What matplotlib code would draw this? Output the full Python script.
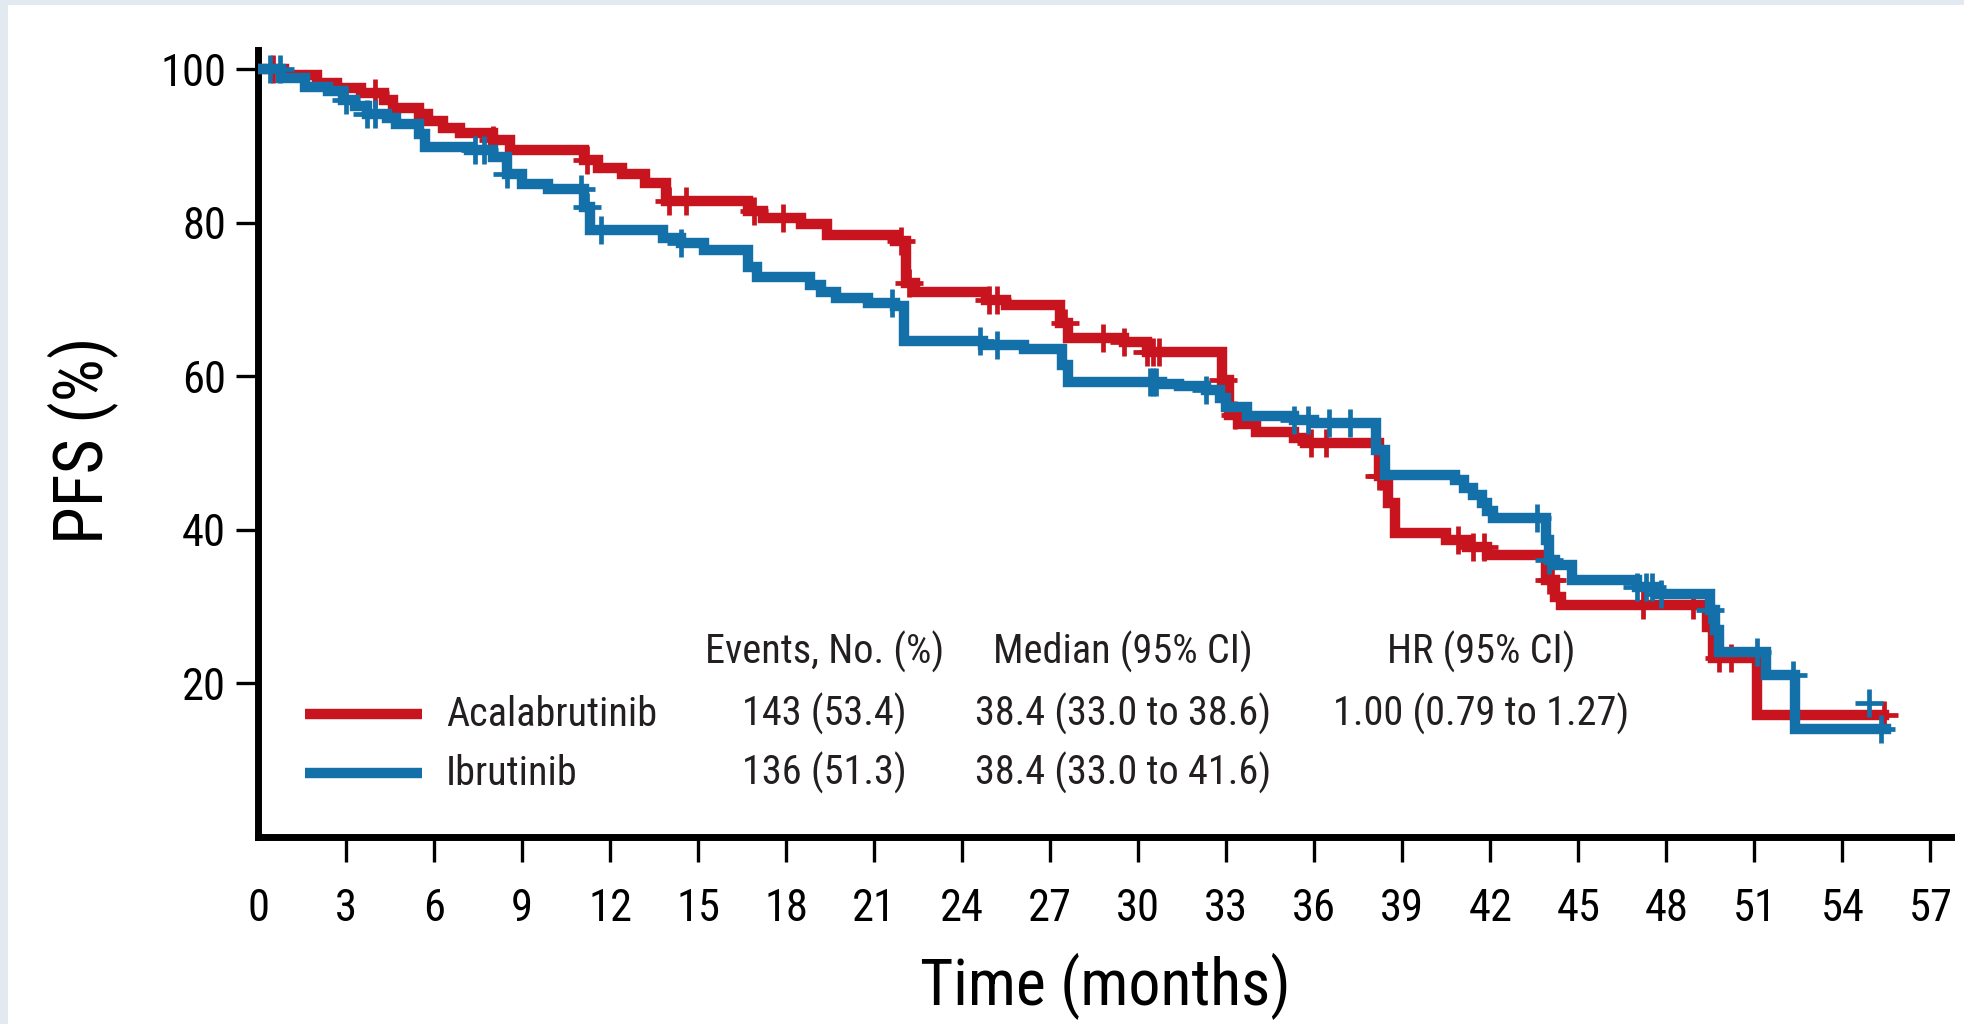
import numpy as np
import matplotlib
matplotlib.use("Agg")
import matplotlib.pyplot as plt
from matplotlib import font_manager as fm
from matplotlib.lines import Line2D
from matplotlib.patches import Rectangle

# pick the narrowest sans family that is installed
_names = {f.name for f in fm.fontManager.ttflist}
_dejavu_cond = any(f.name == "DejaVu Sans" and f.stretch in ("condensed", 300)
                   for f in fm.fontManager.ttflist)
STRETCH = "normal"
if "Liberation Sans Narrow" in _names:
    FAMILY = "Liberation Sans Narrow"
elif "Roboto Condensed" in _names:
    FAMILY = "Roboto Condensed"
elif _dejavu_cond:
    FAMILY = "DejaVu Sans"
    STRETCH = "condensed"
else:
    FAMILY = "Liberation Sans"
plt.rcParams["font.family"] = [FAMILY, "DejaVu Sans"]
plt.rcParams["font.stretch"] = STRETCH

# Kaplan-Meier steps (time in months, PFS in %)
acala_t = [0, 0.9, 2.0, 2.7, 3.5, 4.3, 4.6, 5.5, 5.8, 6.3, 6.9, 8.0, 8.6, 11.1, 11.6,
           12.4, 13.2, 13.9, 16.7, 17.2, 18.5, 19.4, 21.7, 22.1, 22.4, 24.8, 25.5, 27.35,
           27.6, 29.5, 30.3, 32.85, 33.1, 33.4, 34.0, 35.3, 35.7, 38.2, 38.5, 38.75, 40.5,
           41.2, 41.9, 43.9, 44.2, 44.4, 49.4, 49.6, 51.1]
acala_s = [100, 99.2, 98.2, 97.5, 96.9, 96.0, 94.9, 94.1, 93.2, 92.3, 91.7, 90.8, 89.5,
           88.2, 87.1, 86.3, 85.2, 82.8, 81.5, 80.6, 79.9, 78.4, 77.6, 72.2, 71.0, 70.0,
           69.3, 67.0, 65.0, 64.5, 63.2, 59.5, 55.0, 53.8, 52.8, 52.0, 51.3, 47.0, 43.5,
           39.6, 38.7, 37.8, 36.7, 33.5, 31.3, 30.2, 27.4, 23.3, 15.9]
acala_end = 55.4

ibru_t = [0, 0.8, 1.6, 2.4, 2.9, 3.3, 3.7, 4.4, 4.7, 5.5, 5.7, 7.2, 8.0, 8.5, 9.0, 9.9,
          11.1, 11.3, 13.8, 14.4, 15.2, 16.7, 17.0, 18.8, 19.2, 19.7, 20.8, 21.7, 22.0,
          24.7, 26.1, 27.4, 27.6, 30.8, 31.4, 32.3, 32.8, 33.0, 33.7, 35.3, 36.0, 38.1,
          38.4, 40.8, 41.1, 41.4, 41.7, 41.9, 42.1, 43.9, 44.0, 44.2, 44.8, 47.0, 47.7,
          49.5, 49.65, 49.8, 51.4, 52.4]
ibru_s = [100, 98.8, 97.7, 97.1, 96.0, 95.2, 94.1, 93.6, 92.8, 91.5, 89.9, 89.5, 88.6,
          86.3, 85.0, 84.4, 82.0, 79.1, 78.0, 77.4, 76.5, 74.3, 73.0, 71.9, 71.0, 70.2,
          69.5, 69.1, 64.6, 64.1, 63.5, 61.5, 59.3, 59.0, 58.7, 58.2, 57.2, 56.0, 54.8,
          54.3, 53.9, 50.4, 47.2, 46.5, 45.5, 44.5, 43.5, 42.5, 41.5, 38.7, 36.1, 35.4,
          33.5, 32.6, 31.7, 29.6, 27.0, 24.1, 21.1, 14.1]
ibru_end = 55.5

# censoring times
acala_cens = [0.5, 4.0, 8.0, 11.2, 14.0, 14.6, 16.9, 17.9, 21.9, 22.2, 24.9, 25.2, 27.5,
              28.8, 29.5, 30.3, 30.5, 30.7, 32.9, 33.3, 35.9, 36.4, 38.2, 38.3, 40.9, 41.4,
              41.8, 44.0, 44.1, 47.2, 48.9, 49.8, 50.2, 55.4]
ibru_cens = [0.4, 0.75, 3.0, 3.7, 4.0, 7.4, 7.7, 8.5, 11.0, 11.2, 11.7, 14.4, 21.6, 24.6,
             25.2, 30.4, 30.5, 30.6, 32.3, 35.3, 35.8, 36.5, 37.2, 43.6, 44.0, 47.0, 47.3,
             47.5, 47.8, 49.5, 51.1, 52.3, 55.3]
ibru_extra_t = [54.9]
ibru_extra_s = [17.4]

arms = ["Acalabrutinib", "Ibrutinib"]
events = ["143 (53.4)", "136 (51.3)"]
medians = ["38.4 (33.0 to 38.6)", "38.4 (33.0 to 41.6)"]
hr_text = "1.00 (0.79 to 1.27)"

RED = "#c8141e"
BLUE = "#1470a8"
TXT = "#231f20"
LW = 7.5
FS = 29


def level_at(t_arr, s_arr, times):
    idx = np.searchsorted(np.asarray(t_arr), np.asarray(times), side="right") - 1
    return np.asarray(s_arr)[idx]


fig = plt.figure(figsize=(19.64, 10.24), dpi=100, facecolor="#e2e9f0")
fig.patches.append(Rectangle((8 / 1964, 0), 1, 1 - 5 / 1024, transform=fig.transFigure,
                             facecolor="white", edgecolor="none", zorder=-1))

ax = fig.add_axes([258 / 1964, 1 - 837 / 1024, (1951 - 258) / 1964, (837 - 50) / 1024])
ax.set_facecolor("none")

for t, s, end, cens, col, z in [(acala_t, acala_s, acala_end, acala_cens, RED, 3),
                                (ibru_t, ibru_s, ibru_end, ibru_cens, BLUE, 4)]:
    tt = list(t) + [end]
    ss = list(s) + [s[-1]]
    ax.step(tt, ss, where="post", color=col, lw=LW, solid_joinstyle="miter", zorder=z)
    ax.plot(cens, level_at(t, s, cens), ls="none", marker="+", ms=20, mew=3.4,
            color=col, zorder=z)
ax.plot(ibru_extra_t, ibru_extra_s, ls="none", marker="+", ms=20, mew=3.4, color=BLUE, zorder=4)

ax.set_xlim(0, 57.7)
ax.set_ylim(0, 102.5)
ax.set_xticks(np.arange(0, 58, 3))
ax.set_yticks([20, 40, 60, 80, 100])
ax.xaxis.get_major_ticks()[0].tick1line.set_visible(False)
for side in ["top", "right"]:
    ax.spines[side].set_visible(False)
for side in ["left", "bottom"]:
    ax.spines[side].set_linewidth(5)
    ax.spines[side].set_capstyle("projecting")
ax.tick_params(axis="x", length=18, width=2.4, pad=19, labelsize=32, colors="black")
ax.tick_params(axis="y", length=16, width=2.4, pad=7, labelsize=32, colors="black")

fig.text(0.5627, 0.037, "Time (months)", fontsize=46, ha="center", va="center", color="black")
fig.text(0.042, 0.570, "PFS (%)", fontsize=49, ha="center", va="center", rotation=90,
         color="black")

# legend / summary table
cols = [0.3345, 0.511, 0.7227]
heads = ["Events, No. (%)", "Median (95% CI)", "HR (95% CI)"]
for x, h in zip(cols, heads):
    ax.text(x, 0.235, h, transform=ax.transAxes, fontsize=FS, ha="center", va="center", color=TXT)
rows_y = [0.156, 0.081]
for i, (name, col) in enumerate(zip(arms, [RED, BLUE])):
    y = rows_y[i]
    ax.add_line(Line2D([0.0277, 0.097], [y, y], transform=ax.transAxes, color=col, lw=LW,
                       solid_capstyle="butt"))
    ax.text(0.111, y, name, transform=ax.transAxes, fontsize=FS, ha="left", va="center", color=TXT)
    ax.text(cols[0], y, events[i], transform=ax.transAxes, fontsize=FS, ha="center",
            va="center", color=TXT)
    ax.text(cols[1], y, medians[i], transform=ax.transAxes, fontsize=FS, ha="center",
            va="center", color=TXT)
ax.text(cols[2], rows_y[0], hr_text, transform=ax.transAxes, fontsize=FS, ha="center",
        va="center", color=TXT)

fig.savefig("out.png", dpi=100, facecolor=fig.get_facecolor())
